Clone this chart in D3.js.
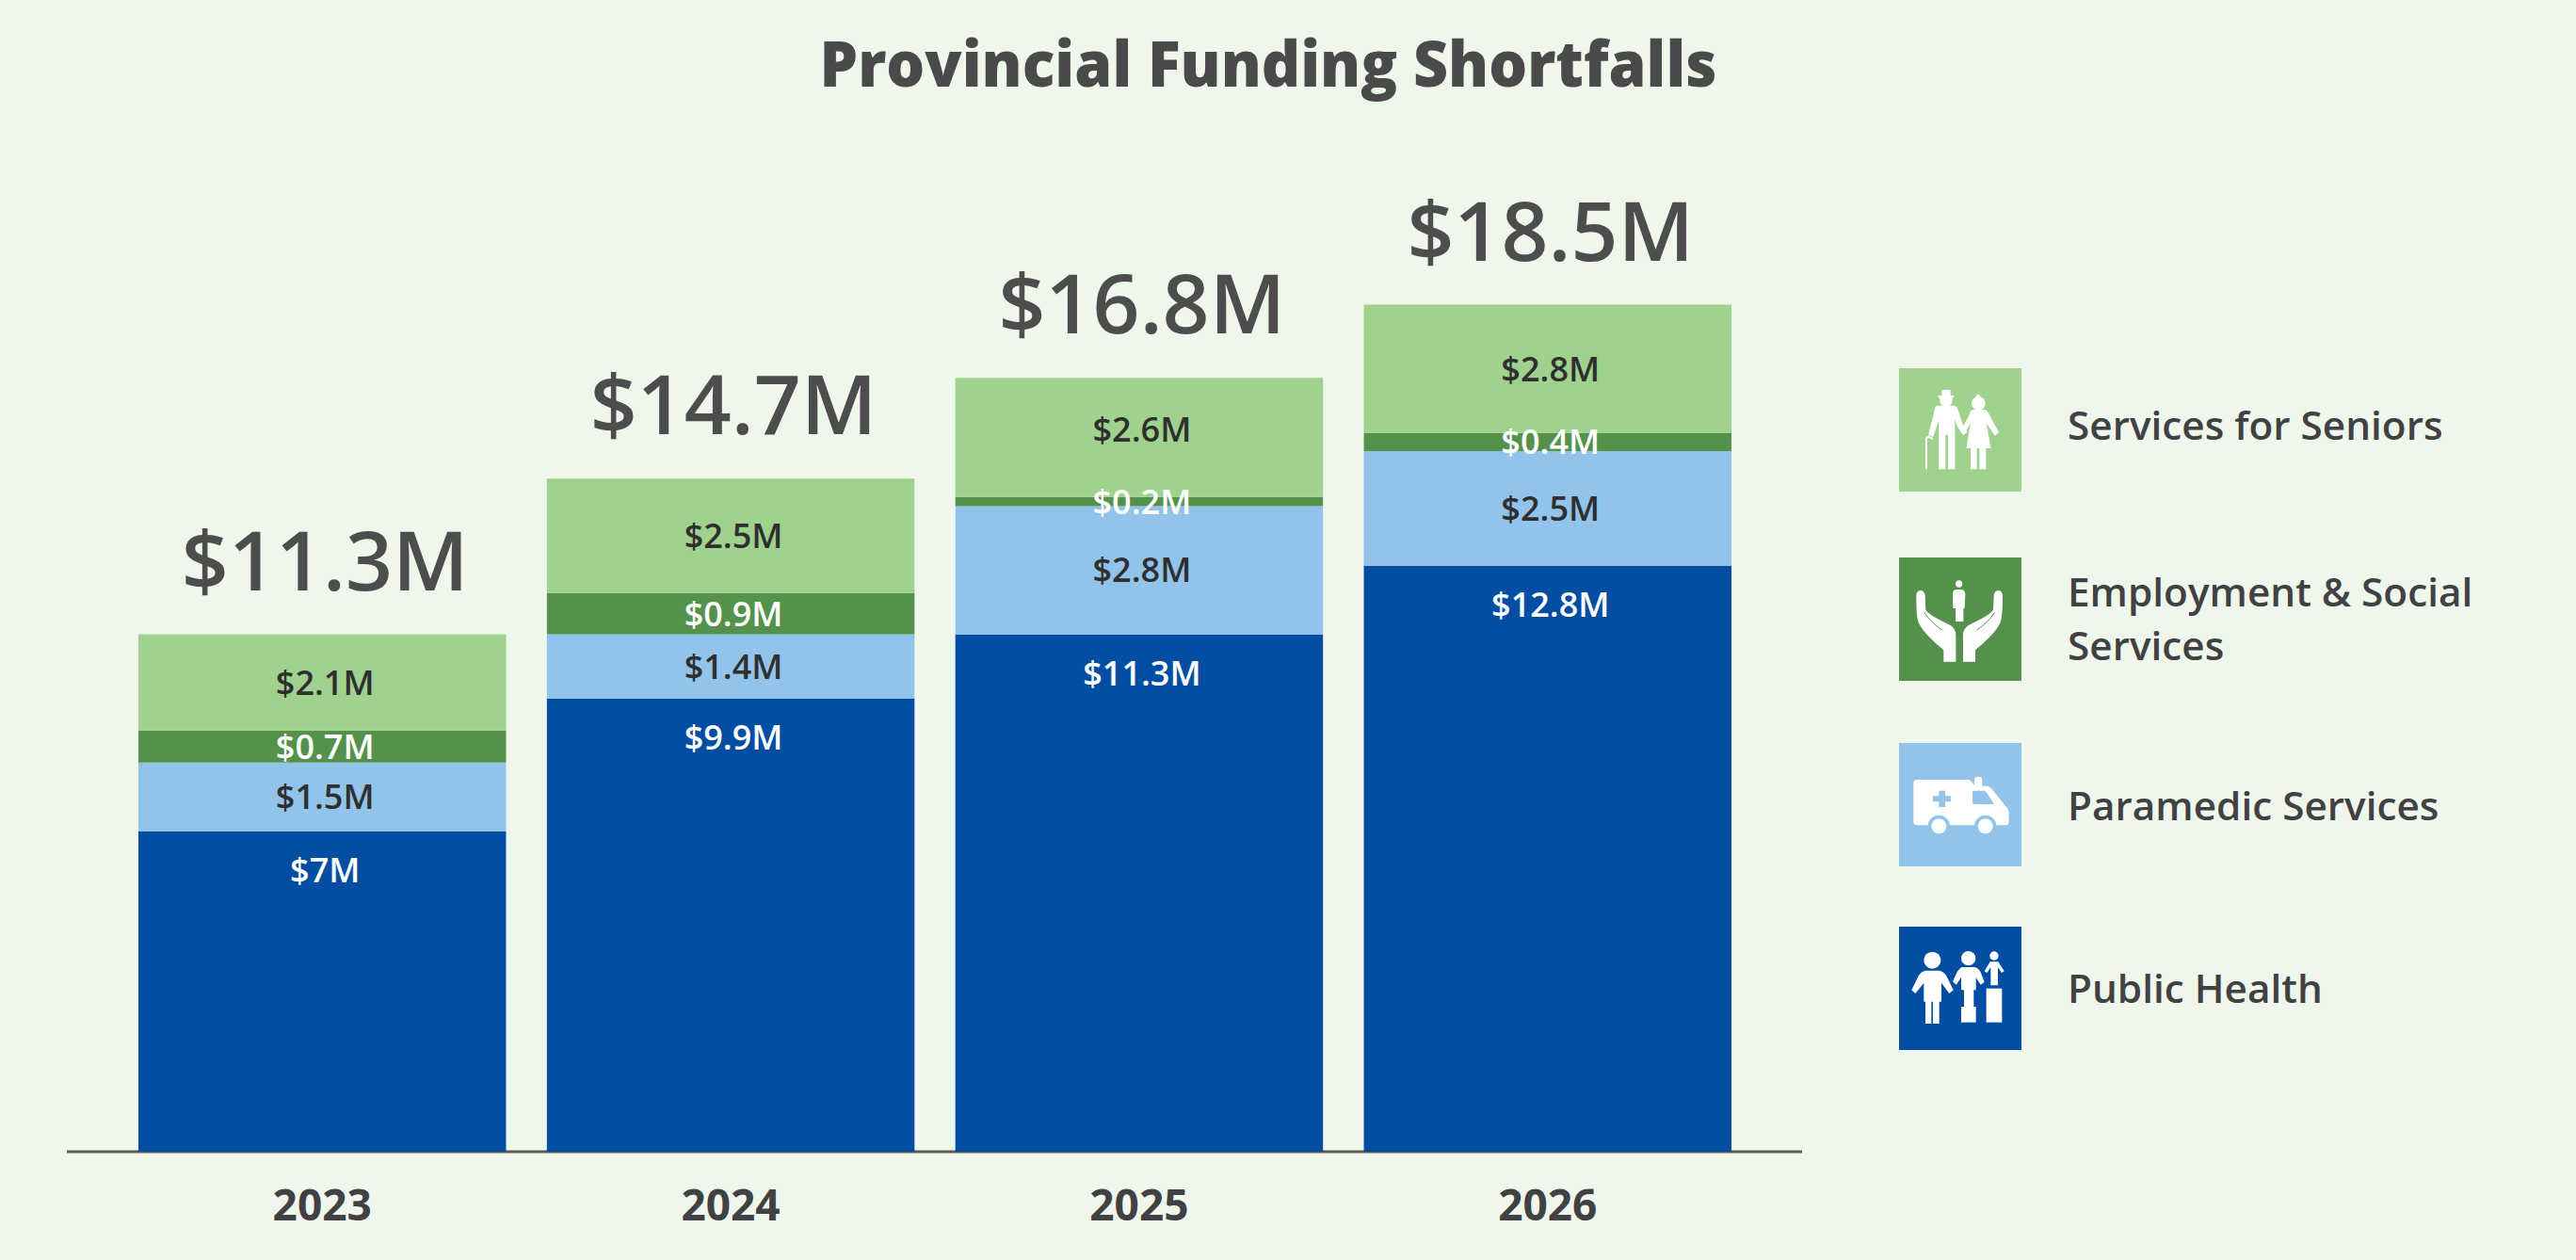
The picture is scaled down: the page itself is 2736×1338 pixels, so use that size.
<!DOCTYPE html>
<html><head><meta charset="utf-8">
<script src="https://cdn.jsdelivr.net/npm/d3@7/dist/d3.min.js"></script>
<style>html,body{margin:0;padding:0;background:#EFF7EC}svg{display:block}text{font-family:"Open Sans",sans-serif}</style>
</head><body><div id="chart"></div>
<script>
const years=["2023","2024","2025","2026"];
const publicHealth=[7,9.9,11.3,12.8];
const paramedic=[1.5,1.4,2.8,2.5];
const employment=[0.7,0.9,0.2,0.4];
const seniors=[2.1,2.5,2.6,2.8];
const totals=[11.3,14.7,16.8,18.5];
const seriesNames=["Public Health","Paramedic Services","Employment & Social Services","Services for Seniors"];
const seriesValues=[publicHealth,paramedic,employment,seniors];
const seriesColors=["#034EA2","#91C3EB","#54924C","#9FD28C"];
const labelColors=["#ffffff","#2f2f2f","#ffffff","#2f2f2f"];

const W=2736,H=1338;
const svg=d3.select("#chart").append("svg").attr("width",W).attr("height",H).attr("viewBox",`0 0 ${W} ${H}`);
svg.append("rect").attr("width",W).attr("height",H).attr("fill","#EFF7EC");

const x=d3.scaleBand().domain(years).range([147,1839]).paddingInner(0.1).paddingOuter(0);
const y=d3.scaleLinear().domain([0,18.5]).range([1223,323.5]);
const fmt=v=>`$${v}M`;
const labelShift=3;

svg.append("text").attr("x",1347).attr("y",92).attr("text-anchor","middle")
  .attr("font-size",67).attr("font-weight",800).attr("fill","#4a4a4a").attr("textLength",953).attr("lengthAdjust","spacingAndGlyphs").text("Provincial Funding Shortfalls");

svg.append("line").attr("x1",71).attr("x2",1914).attr("y1",1223).attr("y2",1223).attr("stroke","#5c5c52").attr("stroke-width",3);

const rows=years.map((yr,i)=>{const o={year:yr};seriesNames.forEach((n,k)=>o[n]=seriesValues[k][i]);return o;});
const stacked=d3.stack().keys(seriesNames)(rows);

const layers=svg.selectAll("g.layer").data(stacked).join("g").attr("class","layer").attr("fill",(d,i)=>seriesColors[i]);
layers.selectAll("rect").data(d=>d).join("rect")
  .attr("x",d=>x(d.data.year)).attr("width",x.bandwidth())
  .attr("y",d=>y(d[1])).attr("height",d=>y(d[0])-y(d[1]));

// the 2025 seniors label sits above the middle of its segment in the reference
const labelNudge=(k,year)=>(k===3&&year==="2025")?-8:0;
const labels=svg.selectAll("g.lab").data(stacked).join("g").attr("class","lab").attr("fill",(d,i)=>labelColors[i]);
labels.each(function(s,k){
  d3.select(this).selectAll("text").data(s).join("text")
    .attr("x",d=>x(d.data.year)+x.bandwidth()/2+labelShift)
    .attr("y",d=>(k===0? y(d[1])+41 : (y(d[0])+y(d[1]))/2)+labelNudge(k,d.data.year))
    .attr("dy","0.36em").attr("text-anchor","middle").attr("font-size",36).attr("font-weight",600)
    .text(d=>fmt(+(d[1]-d[0]).toFixed(1)));
});

svg.selectAll("text.total").data(years).join("text").attr("class","total")
  .attr("x",d=>x(d)+x.bandwidth()/2+labelShift)
  .attr("y",(d,i)=>y(d3.sum(seriesValues,s=>s[i]))-47)
  .attr("text-anchor","middle").attr("font-size",87.5).attr("font-weight",600).attr("fill","#4d4d4d")
  .text((d,i)=>fmt(totals[i]));

const axis=svg.append("g").attr("transform","translate(0,1223)").call(d3.axisBottom(x).tickSize(0).tickPadding(40));
axis.select(".domain").remove();
axis.selectAll("text").attr("font-size",46).attr("font-weight",700).attr("fill","#414042").style("font-family",'"Open Sans",sans-serif');

// legend
const icons={
 "Services for Seniors":g=>{
  g.append("circle").attr("cx",150).attr("cy",105).attr("r",20);
  g.append("path").attr("d","M124 90 H136 V72 H164 V90 H176 L170 102 H130Z");
  g.append("path").attr("d","M122 122 H176 C184 124 188 132 190 142 L203 182 L218 207 L205 216 L186 190 L178 165 V325 H156 V215 H148 V325 H126 V170 L109 222 L93 216 L110 150 C113 132 115 124 122 122Z");
  g.append("path").attr("d","M87 325 V228 Q87 222 95 222 L108 228").attr("fill","none").attr("stroke","#fff").attr("stroke-width",6);
  g.append("circle").attr("cx",253).attr("cy",115).attr("r",22);
  g.append("circle").attr("cx",252).attr("cy",93).attr("r",7);
  g.append("path").attr("d","M235 135 H272 C280 137 285 145 290 155 L318 208 L305 218 L278 178 L293 258 H277 V325 H256 V258 H248 V325 H228 V258 H214 L228 178 L206 215 L195 205 L222 155 C226 145 228 137 235 135Z");
 },
 "Employment & Social Services":g=>{
  g.append("circle").attr("cx",191).attr("cy",87).attr("r",11);
  g.append("path").attr("d","M171 118 Q172 105 182 105 H198 Q208 105 211 118 L209 165 H205 V207 H180 V165 H172Z");
  [null,"translate(385,0) scale(-1,1)"].forEach(t=>{
   const h=g.append("g").attr("transform",t);
   h.append("path").attr("d","M142 335 V298 C115 275 75 240 62 210 C55 190 55 150 55 125 C55 105 80 100 83 125 L85 170 C100 190 140 205 165 220 C175 227 181 238 181 250 V335 Z");
   h.append("path").attr("d","M80 178 C95 200 115 220 137 234 M88 128 L100 160").attr("fill","none").attr("stroke","#54924C").attr("stroke-width",3);
  });
 },
 "Paramedic Services":g=>{
  g.append("path").attr("d","M46 130 Q46 120 56 120 H225 L240 137 V120 Q240 110 252 110 Q265 110 265 120 V140 H282 Q290 142 298 152 L340 205 Q350 212 350 230 V255 Q350 265 340 265 H56 Q46 265 46 255Z");
  g.append("path").attr("d","M234 155 H275 L303 198 H242 Q234 198 234 190Z M108 172 H127 V155 H147 V172 H165 V190 H147 V207 H127 V190 H108Z").attr("fill","#91C3EB");
  [127,275].forEach(c=>{
   g.append("circle").attr("cx",c).attr("cy",268).attr("r",35).attr("fill","#91C3EB");
   g.append("circle").attr("cx",c).attr("cy",268).attr("r",24);
  });
 },
 "Public Health":g=>{
  g.append("circle").attr("cx",106).attr("cy",110).attr("r",27);
  g.append("path").attr("d","M85 143 H128 C138 145 145 150 150 158 L173 205 L160 216 L135 182 V242 H128 V312 H108 V242 H103 V312 H84 V242 H79 V182 L52 216 L40 205 L62 160 C68 150 75 145 85 143Z");
  g.append("circle").attr("cx",221).attr("cy",104).attr("r",23);
  g.append("path").attr("d","M200 132 H242 C250 134 255 140 260 148 L272 180 L260 188 L245 165 V205 H238 V258 H207 V205 H198 V165 L182 188 L171 178 L185 148 C190 140 195 134 200 132Z");
  g.append("rect").attr("x",198).attr("y",258).attr("width",47).attr("height",50);
  g.append("circle").attr("cx",303).attr("cy",96).attr("r",14);
  g.append("path").attr("d","M290 115 H316 L335 145 L327 150 L315 133 V190 H292 V133 L280 150 L272 145Z");
  g.append("rect").attr("x",278).attr("y",200).attr("width",50).attr("height",108);
 }
};
const legendOrder=[3,2,1,0];
const legendTops=[391,592,789,984];
const legendLines=[["Services for Seniors"],["Employment & Social","Services"],["Paramedic Services"],["Public Health"]];
const legendBase=[467,644,871,1065];
legendOrder.forEach((k,i)=>{
  const g=svg.append("g");
  g.append("rect").attr("x",2017).attr("y",legendTops[i]).attr("width",130).attr("height",131).attr("fill",seriesColors[k]);
  const ic=g.append("g").attr("transform",`translate(2017,${legendTops[i]-1}) scale(${1/3})`).attr("fill","#fff");
  icons[seriesNames[k]](ic);
  legendLines[i].forEach((t,j)=>{
    g.append("text").attr("x",2196).attr("y",legendBase[i]+j*57).attr("font-size",42.3).attr("font-weight",600).attr("fill","#414042").text(t);
  });
});
</script></body></html>
